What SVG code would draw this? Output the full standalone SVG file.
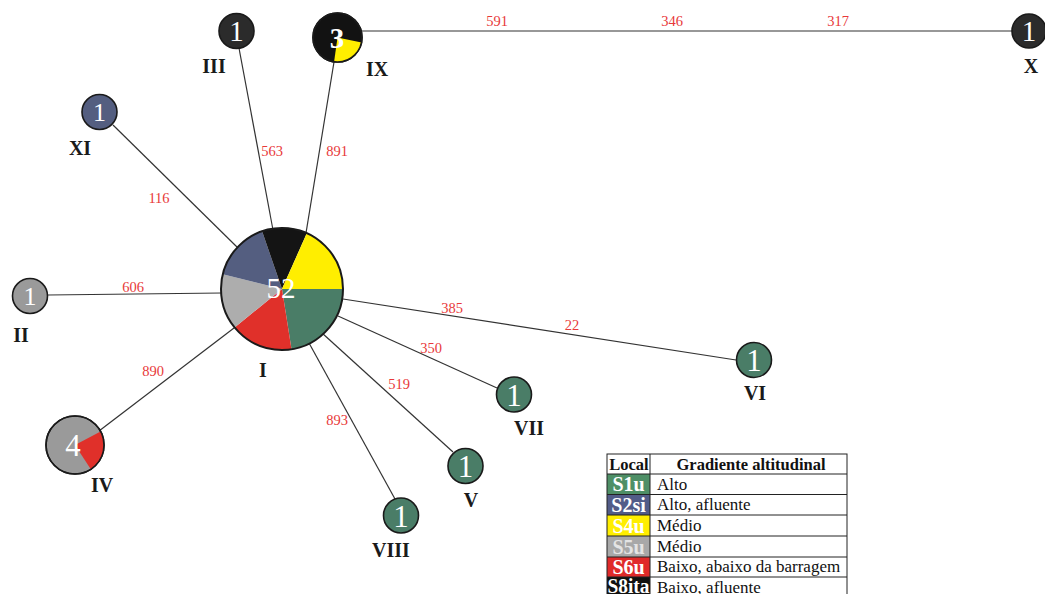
<svg xmlns="http://www.w3.org/2000/svg" width="1045" height="594" viewBox="0 0 1045 594">
<style>
.e{stroke:#333;stroke-width:1.2;fill:none}
.el{font-family:"Liberation Serif",serif;font-size:14.5px;fill:#e8393a;text-anchor:middle}
.nc{stroke:#1a1a1a;stroke-width:1.6}
.num{font-family:"Liberation Serif",serif;fill:#fff;text-anchor:middle}
.lab{font-family:"Liberation Serif",serif;font-weight:bold;font-size:20px;fill:#1a1a1a;text-anchor:middle}
.g{fill:#4a7d67}.b{fill:#545e80}.y{fill:#ffee00}.gr{fill:#adadad}.r{fill:#e0302a}.k{fill:#141414}
.th{font-family:"Liberation Serif",serif;font-weight:bold;font-size:16.5px;fill:#111;text-anchor:middle}
.lc{font-family:"Liberation Serif",serif;font-weight:bold;font-size:20px;fill:#fff;text-anchor:middle}
.rc{font-family:"Liberation Serif",serif;font-size:17px;fill:#111}
.tl{stroke:#222;stroke-width:1;fill:none}
</style>
<rect width="1045" height="594" fill="#fff"/>
<g id="connectors">
<line class="e" x1="48" y1="295" x2="222" y2="293"/>
<line class="e" x1="239" y1="48" x2="273" y2="230"/>
<line class="e" x1="334" y1="62" x2="306" y2="233"/>
<line class="e" x1="361" y1="31" x2="1012" y2="31"/>
<line class="e" x1="113" y1="125" x2="238" y2="248"/>
<line class="e" x1="99" y1="431" x2="234" y2="328"/>
<line class="e" x1="309" y1="343" x2="395" y2="499"/>
<line class="e" x1="322" y1="333" x2="453" y2="452"/>
<line class="e" x1="338" y1="316" x2="497" y2="388"/>
<line class="e" x1="343" y1="299" x2="736" y2="360"/>
<text class="el" x="133" y="292">606</text>
<text class="el" x="272" y="156">563</text>
<text class="el" x="337" y="156">891</text>
<text class="el" x="159" y="203">116</text>
<text class="el" x="153" y="376">890</text>
<text class="el" x="337" y="425">893</text>
<text class="el" x="399" y="389">519</text>
<text class="el" x="431" y="353">350</text>
<text class="el" x="452" y="313">385</text>
<text class="el" x="572" y="330">22</text>
<text class="el" x="497" y="26">591</text>
<text class="el" x="672" y="26">346</text>
<text class="el" x="838" y="26">317</text>
</g>
<g id="node-I">
<path class="g" d="M282,289 L343,289 A61,61 0 0,1 291.5,349.2 Z"/>
<path class="r" d="M282,289 L291.5,349.2 A61,61 0 0,1 234.6,327.4 Z"/>
<path class="gr" d="M282,289 L234.6,327.4 A61,61 0 0,1 222.8,274.2 Z"/>
<path class="b" d="M282,289 L222.8,274.2 A61,61 0 0,1 262.1,231.3 Z"/>
<path class="k" d="M282,289 L262.1,231.3 A61,61 0 0,1 306.8,233.3 Z"/>
<path class="y" d="M282,289 L306.8,233.3 A61,61 0 0,1 343,289 Z"/>
<circle cx="282" cy="289" r="61" fill="none" stroke="#1a1a1a" stroke-width="2"/>
<text class="num" x="281" y="298" font-size="29">52</text>
<text class="lab" x="263" y="377">I</text>
</g>
<g id="node-II">
<circle class="nc" cx="30" cy="296" r="17.5" fill="#9a9a9a"/>
<text class="num" x="30" y="305" font-size="26">1</text>
<text class="lab" x="21" y="342">II</text>
</g>
<g id="node-III">
<circle class="nc" cx="236.5" cy="31" r="17.5" fill="#2b2b2b"/>
<text class="num" x="236.5" y="41" font-size="29">1</text>
<text class="lab" x="214" y="73">III</text>
</g>
<g id="node-IX">
<circle class="nc" cx="337.5" cy="37.5" r="24.5" fill="#121212"/>
<path class="y" d="M337.5,37.5 L361.5,42.6 A24.5,24.5 0 0,1 334.1,61.8 Z"/>
<circle cx="337.5" cy="37.5" r="24.5" fill="none" stroke="#1a1a1a" stroke-width="1.6"/>
<text class="num" x="337" y="48" font-size="29" font-weight="bold">3</text>
<text class="lab" x="377" y="76">IX</text>
</g>
<g id="node-X">
<circle class="nc" cx="1029" cy="31" r="17" fill="#2b2b2b"/>
<text class="num" x="1029" y="41" font-size="29">1</text>
<text class="lab" x="1031" y="73">X</text>
</g>
<g id="node-XI">
<circle class="nc" cx="99.5" cy="112" r="17.5" fill="#545e80"/>
<text class="num" x="99.5" y="121" font-size="26">1</text>
<text class="lab" x="80" y="155">XI</text>
</g>
<g id="node-IV">
<circle class="nc" cx="75" cy="445" r="29" fill="#9a9a9a"/>
<path class="r" d="M75,445 L100.6,431.4 A29,29 0 0,1 90.8,469.3 Z"/>
<circle cx="75" cy="445" r="29" fill="none" stroke="#1a1a1a" stroke-width="1.6"/>
<text class="num" x="73" y="456" font-size="31">4</text>
<text class="lab" x="102" y="492">IV</text>
</g>
<g id="node-V">
<circle class="nc" cx="465.5" cy="466" r="17.5" fill="#4a7d67"/>
<text class="num" x="465.5" y="477" font-size="31">1</text>
<text class="lab" x="471" y="507">V</text>
</g>
<g id="node-VI">
<circle class="nc" cx="754" cy="360" r="17.5" fill="#4a7d67"/>
<text class="num" x="754" y="371" font-size="31">1</text>
<text class="lab" x="755" y="400">VI</text>
</g>
<g id="node-VII">
<circle class="nc" cx="514" cy="394.5" r="17.5" fill="#4a7d67"/>
<text class="num" x="514" y="405.5" font-size="31">1</text>
<text class="lab" x="529" y="435">VII</text>
</g>
<g id="node-VIII">
<circle class="nc" cx="401" cy="515.5" r="17.5" fill="#4a7d67"/>
<text class="num" x="401" y="526.5" font-size="31">1</text>
<text class="lab" x="391" y="557">VIII</text>
</g>
<g id="legend">
<rect x="607" y="474" width="43" height="20.5" fill="#4e8f66"/>
<rect x="607" y="494.5" width="43" height="20.5" fill="#525c88"/>
<rect x="607" y="515" width="43" height="21" fill="#ffee00"/>
<rect x="607" y="536" width="43" height="21" fill="#a8a8a8"/>
<rect x="607" y="557" width="43" height="20" fill="#e02a2a"/>
<rect x="607" y="577" width="43" height="21" fill="#111"/>
<rect class="tl" x="607" y="454" width="240" height="144"/>
<line class="tl" x1="650" y1="454" x2="650" y2="598"/>
<line class="tl" x1="607" y1="474" x2="847" y2="474"/>
<line class="tl" x1="607" y1="494.5" x2="847" y2="494.5"/>
<line class="tl" x1="607" y1="515" x2="847" y2="515"/>
<line class="tl" x1="607" y1="536" x2="847" y2="536"/>
<line class="tl" x1="607" y1="557" x2="847" y2="557"/>
<line class="tl" x1="607" y1="577" x2="847" y2="577"/>
<text class="th" x="629" y="469.5">Local</text>
<text class="th" x="751" y="469.5">Gradiente altitudinal</text>
<text class="lc" x="628.5" y="491">S1u</text>
<text class="lc" x="628.5" y="511.5">S2si</text>
<text class="lc" x="628.5" y="532.5">S4u</text>
<text class="lc" x="628.5" y="553.5" style="fill:#e4e4e4">S5u</text>
<text class="lc" x="628.5" y="573.5">S6u</text>
<text class="lc" x="628.5" y="593" textLength="42" lengthAdjust="spacingAndGlyphs">S8ita</text>
<text class="rc" x="657" y="489.5">Alto</text>
<text class="rc" x="657" y="510">Alto, afluente</text>
<text class="rc" x="657" y="531">Médio</text>
<text class="rc" x="657" y="552">Médio</text>
<text class="rc" x="657" y="572">Baixo, abaixo da barragem</text>
<text class="rc" x="657" y="592.5">Baixo, afluente</text>
</g>
</svg>
